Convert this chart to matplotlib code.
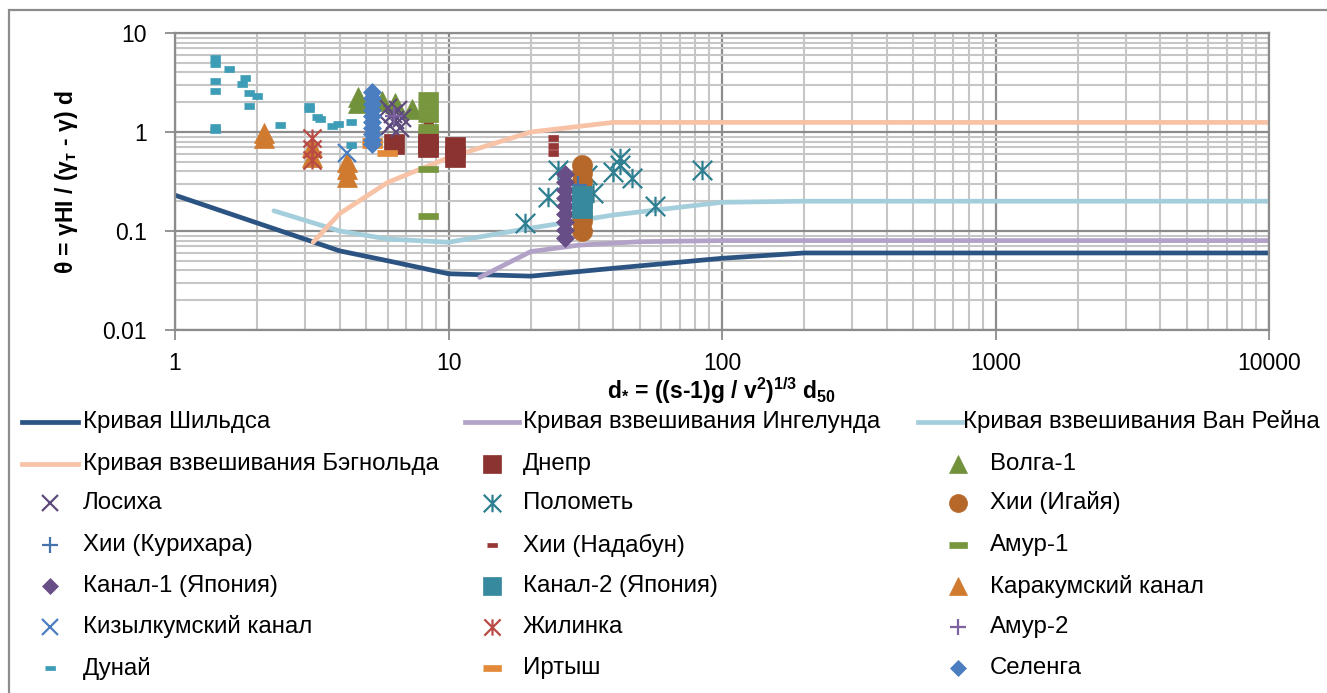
import matplotlib
matplotlib.use('Agg')
import matplotlib.pyplot as plt
import matplotlib.ticker as ticker
from matplotlib.lines import Line2D
from matplotlib.patches import Rectangle
from matplotlib.path import Path
import numpy as np

W, H = 1327, 693
plt.rcParams['font.family'] = ['Liberation Sans', 'DejaVu Sans']
plt.rcParams['mathtext.default'] = 'regular'

# --- curves ---
shields_x = [1, 4, 6, 10, 20, 40, 100, 200, 10000]
shields_y = [0.23, 0.063, 0.05, 0.037, 0.035, 0.042, 0.053, 0.06, 0.06]
ingelund_x = [13, 20, 30, 50, 100, 10000]
ingelund_y = [0.034, 0.062, 0.072, 0.078, 0.08, 0.08]
vanrijn_x = [2.3, 4, 6, 10, 20, 40, 100, 200, 10000]
vanrijn_y = [0.16, 0.1, 0.083, 0.077, 0.107, 0.145, 0.195, 0.2, 0.2]
bagnold_x = [3.2, 4, 6, 10, 20, 40, 10000]
bagnold_y = [0.077, 0.15, 0.31, 0.55, 1.0, 1.25, 1.25]

# --- field data ---
dnepr_x = [6.34, 8.44, 8.44, 10.6, 10.6]
dnepr_y = [0.76, 0.78, 0.70, 0.70, 0.56]
volga_x = [4.67, 4.67, 5.25, 5.7, 6.37, 7.36]
volga_y = [2.26, 1.96, 2.2, 2.07, 1.95, 1.71]
losikha_x = [6.01, 6.27, 6.54, 6.37, 6.76, 6.11, 6.65]
losikha_y = [1.75, 1.52, 1.67, 1.32, 1.38, 1.15, 1.10]
polomet_x = [19.0, 23.2, 25.2, 32.0, 33.8, 40.1, 42.4, 42.4, 46.8, 56.9, 84.3]
polomet_y = [0.12, 0.222, 0.413, 0.37, 0.24, 0.397, 0.542, 0.465, 0.34, 0.179, 0.413]
igaya_x = [30.7] * 9
igaya_y = [0.46, 0.385, 0.32, 0.26, 0.22, 0.18, 0.15, 0.125, 0.10]
kurihara_x = [29.7]
kurihara_y = [0.29]
nadabun_x = [24.2, 24.2, 24.2, 8.44]
nadabun_y = [0.86, 0.73, 0.62, 1.24]
amur1_x = [8.44] * 9
amur1_y = [2.38, 2.07, 1.80, 1.57, 1.36, 1.13, 1.04, 0.42, 0.143]
kanal1_x = [26.7] * 9
kanal1_y = [0.377, 0.31, 0.26, 0.215, 0.18, 0.149, 0.123, 0.102, 0.085]
kanal2_x = [30.7, 30.7]
kanal2_y = [0.226, 0.171]
karakum_x = [2.12, 2.12, 3.18, 3.18, 4.24, 4.24, 4.24]
karakum_y = [0.97, 0.86, 0.70, 0.56, 0.50, 0.42, 0.35]
kyzylkum_x = [4.24]
kyzylkum_y = [0.61]
zhilinka_x = [3.18, 3.18, 3.18]
zhilinka_y = [0.87, 0.68, 0.52]
amur2_x = [6.3]
amur2_y = [1.45]
dunai_x = [1.4, 1.4, 1.4, 1.4, 1.4, 1.4, 1.57, 1.8, 1.76, 1.87, 2.0, 1.87, 2.42,
           3.09, 3.09, 3.3, 3.39, 3.76, 3.95, 4.4, 4.4]
dunai_y = [5.53, 4.86, 3.3, 2.6, 1.12, 1.05, 4.33, 3.48, 3.05, 2.5, 2.3, 1.83, 1.17,
           1.85, 1.7, 1.41, 1.36, 1.15, 1.2, 1.26, 0.74]
irtysh_x = [5.25, 5.25, 5.94]
irtysh_y = [0.82, 0.74, 0.62]
selenga_x = [5.25] * 10
selenga_y = [2.54, 2.20, 1.92, 1.67, 1.45, 1.26, 1.10, 0.95, 0.83, 0.76]

# marker shapes
dash_small = [(-1, -0.5), (1, -0.5), (1, 0.5), (-1, 0.5)]
dash_wide = [(-1, -0.3), (1, -0.3), (1, 0.3), (-1, 0.3)]
star = Path([(-1, -1), (1, 1), (-1, 1), (1, -1), (0, -1), (0, 1)],
            [Path.MOVETO, Path.LINETO] * 3)
plus = Path([(-1, 0), (1, 0), (0, -1), (0, 1)], [Path.MOVETO, Path.LINETO] * 2)

lines = [
    ('Кривая Шильдса', shields_x, shields_y, '#2C5482'),
    ('Кривая взвешивания Ингелунда', ingelund_x, ingelund_y, '#B3A2C7'),
    ('Кривая взвешивания Ван Рейна', vanrijn_x, vanrijn_y, '#A5CEDD'),
    ('Кривая взвешивания Бэгнольда', bagnold_x, bagnold_y, '#F8C2A6'),
]

# label, x, y, marker, size, colour, filled
points = [
    ('Днепр', dnepr_x, dnepr_y, 's', 14.4, '#8B3331', True),
    ('Волга-1', volga_x, volga_y, '^', 14.4, '#72913B', True),
    ('Лосиха', losikha_x, losikha_y, 'x', 13.5, '#5E4A7D', False),
    ('Полометь', polomet_x, polomet_y, star, 14, '#2E7F91', False),
    ('Хии (Игайя)', igaya_x, igaya_y, 'o', 14.4, '#B5682A', True),
    ('Хии (Курихара)', kurihara_x, kurihara_y, plus, 13, '#4673AB', False),
    ('Хии (Надабун)', nadabun_x, nadabun_y, dash_small, 7.4, '#953735', True),
    ('Амур-1', amur1_x, amur1_y, dash_wide, 14.4, '#78963E', True),
    ('Канал-1 (Япония)', kanal1_x, kanal1_y, 'D', 9.2, '#674E87', True),
    ('Канал-2 (Япония)', kanal2_x, kanal2_y, 's', 13.8, '#37899E', True),
    ('Каракумский канал', karakum_x, karakum_y, '^', 14.4, '#D07A2F', True),
    ('Кизылкумский канал', kyzylkum_x, kyzylkum_y, 'x', 13, '#4A7EC0', False),
    ('Жилинка', zhilinka_x, zhilinka_y, star, 13, '#B94A44', False),
    ('Амур-2', amur2_x, amur2_y, plus, 13, '#7D62A0', False),
    ('Дунай', dunai_x, dunai_y, dash_small, 7.4, '#3D9CB6', True),
    ('Иртыш', irtysh_x, irtysh_y, dash_wide, 14.0, '#E38A3A', True),
    ('Селенга', selenga_x, selenga_y, 'D', 9.2, '#4A7EC0', True),
]


def marker_kw(marker, size, color, filled, scale=1.0):
    if filled:
        return dict(marker=marker, ms=size * scale, mfc=color, mec=color, mew=0.5)
    return dict(marker=marker, ms=size * scale, mfc='none', mec=color, mew=1.6)


fig = plt.figure(figsize=(W / 100, H / 100), dpi=100)
ax = fig.add_axes([175 / W, 1 - 330 / H, (1269 - 175) / W, (330 - 33) / H])

for i, (label, x, y, color) in enumerate(lines):
    ax.plot(x, y, color=color, lw=3.4, solid_capstyle='round', zorder=2 + i * 0.01)

for i, (label, x, y, m, s, color, filled) in enumerate(points):
    ax.plot(x, y, linestyle='none', zorder=3 + i * 0.01, **marker_kw(m, s, color, filled))

ax.set_xscale('log')
ax.set_yscale('log')
ax.set_xlim(1, 10000)
ax.set_ylim(0.01, 10)
ax.set_xticks([1, 10, 100, 1000, 10000])
ax.set_xticklabels(['1', '10', '100', '1000', '10000'])
ax.set_yticks([0.01, 0.1, 1, 10])
ax.set_yticklabels(['0.01', '0.1', '1', '10'])
ax.xaxis.set_minor_locator(ticker.LogLocator(base=10, subs=np.arange(2, 10), numticks=20))
ax.yaxis.set_minor_locator(ticker.LogLocator(base=10, subs=np.arange(2, 10), numticks=20))
ax.xaxis.set_minor_formatter(ticker.NullFormatter())
ax.yaxis.set_minor_formatter(ticker.NullFormatter())
ax.set_axisbelow(True)
ax.grid(which='major', color='#8C8C8C', lw=1.6)
ax.grid(which='minor', color='#C6C6C6', lw=1.5)
ax.tick_params(which='minor', length=0)
ax.tick_params(which='major', length=7, width=1.3, color='#8C8C8C', labelsize=16.5)
ax.tick_params(axis='y', pad=13)
ax.tick_params(axis='x', pad=9)
for sp in ax.spines.values():
    sp.set_color('#8C8C8C')
    sp.set_linewidth(1.6)

fig.text(67 / W, 1 - 182 / H, 'θ = γHI / (γ$_{т}$ - γ) d', rotation=90,
         ha='center', va='center', fontsize=16.5, fontweight='bold')
fig.text(722 / W, 1 - 391 / H, 'd$_{*}$ = ((s-1)g / v$^{2}$)$^{1/3}$ d$_{50}$',
         ha='center', va='center', fontsize=16.5, fontweight='bold')

# chart frame
fig.add_artist(Rectangle((9 / W, -0.2), 1.5, 1 - 10 / H + 0.2, transform=fig.transFigure,
                         fill=False, ec='#8C8C8C', lw=1.6))

# legend, three columns filled row by row
row_y = [422, 464, 503, 545, 586, 627, 668]
handle_span = [(22, 78), (465, 519), (918, 962)]
line_text_x = [83, 523, 963]
marker_x = [50, 492, 958]
marker_text_x = [83, 523, 990]

entries = [('line', l) for l in lines] + [('pt', p) for p in points]
for k, (kind, e) in enumerate(entries):
    r, c = divmod(k, 3)
    fy = 1 - row_y[r] / H
    if kind == 'line':
        x0, x1 = handle_span[c]
        fig.add_artist(Line2D([x0 / W, x1 / W], [fy, fy], color=e[3], lw=3.4,
                              transform=fig.transFigure))
        tx = line_text_x[c]
    else:
        label, x, y, m, s, color, filled = e
        fig.add_artist(Line2D([marker_x[c] / W], [fy], linestyle='none',
                              transform=fig.transFigure,
                              **marker_kw(m, s, color, filled, 0.9)))
        tx = marker_text_x[c]
    fig.text(tx / W, fy, e[0], ha='left', va='center', fontsize=17.3)

fig.savefig('out.png', dpi=100)
